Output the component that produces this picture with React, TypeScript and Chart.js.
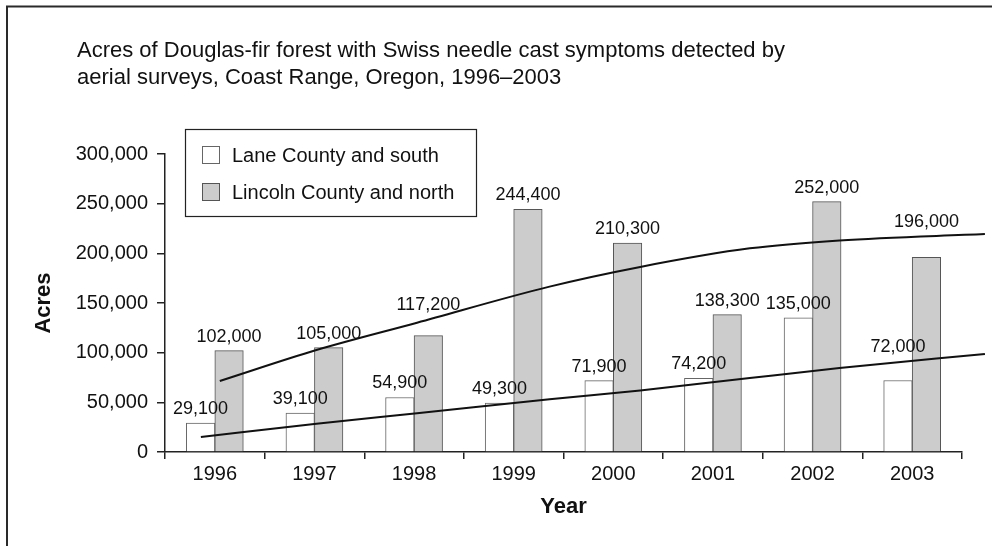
import React, { useEffect, useRef } from 'react';
import { Chart, registerables } from 'chart.js';

Chart.register(...registerables);

const FONT = '"Liberation Sans", Arial, Helvetica, sans-serif';

const titleLines = [
  'Acres of Douglas-fir forest with Swiss needle cast symptoms detected by',
  'aerial surveys, Coast Range, Oregon, 1996–2003',
];
const years = ['1996', '1997', '1998', '1999', '2000', '2001', '2002', '2003'];
const laneSouth = [29100, 39100, 54900, 49300, 71900, 74200, 135000, 72000];
const lincolnNorth = [102000, 105000, 117200, 244400, 210300, 138300, 252000, 196000];

// trend curves (x in years, y in acres)
const laneTrendX = [1995.86, 1997.02, 1998.03, 1999.36, 2000.27, 2001.37, 2002.27, 2003.73];
const laneTrendY = [15000, 28500, 39000, 53000, 62000, 74500, 84500, 98700];
const lincolnTrendX = [1996.05, 1997.02, 1998.03, 1999.36, 2000.27, 2001.37, 2002.27, 2003.73];
const lincolnTrendY = [71500, 102700, 130200, 166500, 186300, 205000, 213000, 219500];

const seriesNames = ['Lane County and south', 'Lincoln County and north'];
const yTicks = [0, 50000, 100000, 150000, 200000, 250000, 300000];

const fmt = (v: number) => v.toLocaleString('en-US');

export default function App() {
  const ref = useRef<HTMLCanvasElement>(null);

  useEffect(() => {
    const canvas = ref.current;
    if (!canvas) return;

    const framePlugin = {
      id: 'frameTitle',
      beforeDraw(chart: any) {
        const ctx = chart.ctx;
        ctx.save();
        ctx.fillStyle = '#ffffff';
        ctx.fillRect(0, 0, chart.width, chart.height);
        ctx.strokeStyle = '#2a2a2a';
        ctx.lineWidth = 2;
        ctx.beginPath();
        ctx.moveTo(7, chart.height);
        ctx.lineTo(7, 6.5);
        ctx.lineTo(chart.width, 6.5);
        ctx.stroke();
        ctx.fillStyle = '#111';
        ctx.font = `22px ${FONT}`;
        ctx.textAlign = 'left';
        ctx.textBaseline = 'alphabetic';
        titleLines.forEach((t, i) => ctx.fillText(t, 77, 57 + i * 27));
        ctx.restore();
      },
    };

    const lineYAt = (meta: any, x: number): number | null => {
      const pts = meta.data;
      for (let i = 0; i < pts.length - 1; i++) {
        const a = pts[i], b = pts[i + 1];
        if (x >= a.x && x <= b.x) {
          return a.y + ((x - a.x) / (b.x - a.x)) * (b.y - a.y);
        }
      }
      return null;
    };

    const labelPlugin = {
      id: 'barLabels',
      afterDatasetsDraw(chart: any) {
        const ctx = chart.ctx;
        ctx.save();
        ctx.font = `18px ${FONT}`;
        ctx.fillStyle = '#111';
        ctx.textAlign = 'center';
        ctx.textBaseline = 'alphabetic';
        const lineMetas: any[] = [];
        chart.data.datasets.forEach((ds: any, di: number) => {
          if (ds.type === 'line') lineMetas.push(chart.getDatasetMeta(di));
        });
        chart.data.datasets.forEach((ds: any, di: number) => {
          if (ds.type === 'line') return;
          const meta = chart.getDatasetMeta(di);
          meta.data.forEach((bar: any, i: number) => {
            const x = bar.x;
            const top = bar.y;
            let base = top - 9;
            lineMetas.forEach((lm) => {
              const ly = lineYAt(lm, x);
              if (ly !== null && ly < top - 2 && ly > base - 16) {
                base = Math.min(base, ly - 10);
              }
            });
            ctx.fillText(fmt(ds.data[i]), x, base);
          });
        });
        ctx.restore();
      },
    };

    const legendPlugin = {
      id: 'boxLegend',
      afterDraw(chart: any) {
        const ctx = chart.ctx;
        ctx.save();
        ctx.strokeStyle = '#222';
        ctx.lineWidth = 1.2;
        ctx.strokeRect(185.5, 129.5, 291, 87);
        const bars = chart.data.datasets.filter((d: any) => d.type !== 'line');
        ctx.font = `20px ${FONT}`;
        ctx.textAlign = 'left';
        ctx.textBaseline = 'middle';
        bars.forEach((d: any, i: number) => {
          const cy = 155 + i * 37;
          ctx.fillStyle = d.backgroundColor;
          ctx.fillRect(202.5, cy - 8.5, 17, 17);
          ctx.strokeStyle = d.borderColor;
          ctx.lineWidth = 1;
          ctx.strokeRect(202.5, cy - 8.5, 17, 17);
          ctx.fillStyle = '#111';
          ctx.fillText(d.label, 232, cy + 1);
        });
        ctx.restore();
      },
    };

    const chart = new Chart(canvas, {
      type: 'bar',
      data: {
        labels: years,
        datasets: [
          {
            type: 'line',
            label: 'Lane trend',
            xAxisID: 'xt',
            data: laneTrendX.map((x, i) => ({ x, y: laneTrendY[i] })),
            borderColor: '#111',
            borderWidth: 2,
            pointRadius: 0,
            cubicInterpolationMode: 'monotone',
            fill: false,
            clip: false,
            order: 0,
          } as any,
          {
            type: 'line',
            label: 'Lincoln trend',
            xAxisID: 'xt',
            data: lincolnTrendX.map((x, i) => ({ x, y: lincolnTrendY[i] })),
            borderColor: '#111',
            borderWidth: 2,
            pointRadius: 0,
            cubicInterpolationMode: 'monotone',
            fill: false,
            clip: false,
            order: 0,
          } as any,
          {
            type: 'bar',
            label: seriesNames[0],
            data: laneSouth,
            backgroundColor: '#ffffff',
            borderColor: '#666666',
            borderWidth: 1,
            barThickness: 28.5,
            order: 1,
          },
          {
            type: 'bar',
            label: seriesNames[1],
            data: lincolnNorth,
            backgroundColor: '#cccccc',
            borderColor: '#555555',
            borderWidth: 1,
            barThickness: 28.5,
            order: 1,
          },
        ],
      },
      options: {
        responsive: false,
        animation: false,
        devicePixelRatio: 1,
        layout: { padding: { left: 0, top: 154, right: 30, bottom: 0 } },
        plugins: {
          legend: { display: false },
          title: { display: false },
          tooltip: { enabled: false },
        },
        scales: {
          x: {
            type: 'category',
            offset: true,
            grid: {
              offset: true,
              drawOnChartArea: false,
              drawTicks: true,
              tickLength: 7,
              color: '#222',
              lineWidth: 1.5,
            },
            border: { display: true, color: '#222', width: 1.5 },
            ticks: { color: '#111', font: { family: FONT, size: 20 }, padding: 3, maxRotation: 0 },
            title: {
              display: true,
              text: 'Year',
              color: '#111',
              font: { family: FONT, size: 22, weight: 'bold' },
              padding: { top: 0, bottom: 26 },
            },
            afterFit: (scale: any) => {
              scale.height = 94;
            },
          },
          xt: {
            type: 'linear',
            display: false,
            offset: false,
            grid: { offset: false },
            min: 1995.5,
            max: 2003.5,
          },
          y: {
            type: 'linear',
            min: 0,
            max: 300000,
            afterBuildTicks: (scale: any) => {
              scale.ticks = yTicks.map((v) => ({ value: v }));
            },
            grid: {
              drawOnChartArea: false,
              drawTicks: true,
              tickLength: 8,
              color: '#222',
              lineWidth: 1.5,
            },
            border: { display: true, color: '#222', width: 1.5 },
            ticks: {
              color: '#111',
              font: { family: FONT, size: 20 },
              padding: 9,
              callback: (v: any) => fmt(Number(v)),
            },
            title: {
              display: true,
              text: 'Acres',
              color: '#111',
              font: { family: FONT, size: 22, weight: 'bold' },
              padding: { top: 31, bottom: 0 },
            },
            afterFit: (scale: any) => {
              scale.width = 165;
            },
          },
        },
      } as any,
      plugins: [framePlugin, labelPlugin, legendPlugin],
    });

    return () => chart.destroy();
  }, []);

  return (
    <div style={{ position: 'absolute', left: 0, top: 0, width: 992, height: 546, background: '#fff' }}>
      <canvas ref={ref} width={992} height={546} style={{ display: 'block' }} />
    </div>
  );
}
